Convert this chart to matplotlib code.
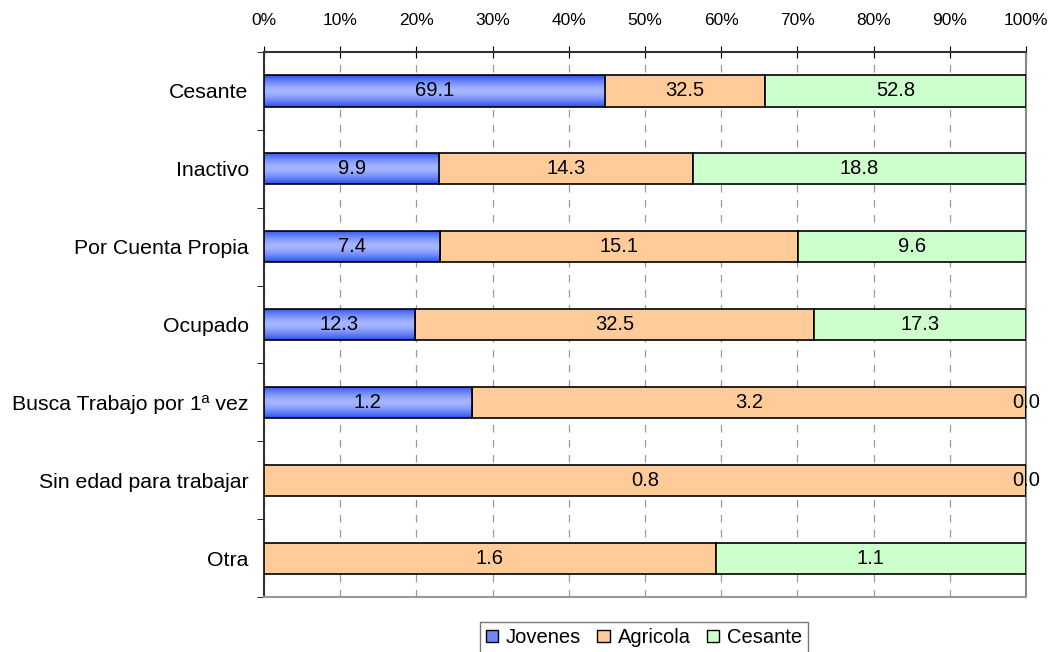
import matplotlib.pyplot as plt
import numpy as np
from matplotlib.patches import Patch
from matplotlib.ticker import FixedLocator, PercentFormatter

plt.rcParams["font.family"] = ["Liberation Sans", "DejaVu Sans"]

categories = ["Cesante", "Inactivo", "Por Cuenta Propia", "Ocupado",
              "Busca Trabajo por 1ª vez", "Sin edad para trabajar", "Otra"]
jovenes = [69.1, 9.9, 7.4, 12.3, 1.2, None, None]
agricola = [32.5, 14.3, 15.1, 32.5, 3.2, 0.8, 1.6]
cesante = [52.8, 18.8, 9.6, 17.3, 0.0, 0.0, 1.1]

series = [("Jovenes", jovenes, "#8fa3fb"),
          ("Agricola", agricola, "#ffcc99"),
          ("Cesante", cesante, "#ccffcc")]

fig = plt.figure(figsize=(10.48, 6.52), dpi=100)
ax = fig.add_axes([264 / 1048, 1 - 597 / 652, 762 / 1048, 545 / 652])

y = np.arange(len(categories))
totals = np.array([sum(v for v in vals if v is not None)
                   for vals in zip(jovenes, agricola, cesante)])
left = np.zeros(len(categories))
bar_h = 0.4

# vertical gradient for the blue series: dark edges, light middle
grad = np.abs(np.linspace(-1, 1, 64)) ** 1.5
grad_img = np.zeros((64, 1, 3))
dark = np.array([0x2a, 0x4f, 0xf0]) / 255
light = np.array([0xa5, 0xb6, 0xff]) / 255
for i, g in enumerate(grad):
    grad_img[i, 0] = light * (1 - g) + dark * g

for name, vals, color in series:
    v = np.array([np.nan if x is None else x for x in vals], dtype=float)
    pct = np.nan_to_num(v) / totals * 100
    bars = ax.barh(y, pct, left=left, height=bar_h, color=color,
                   edgecolor="black", linewidth=1.2, zorder=3)
    for b, val, p, l in zip(bars, v, pct, left):
        if np.isnan(val):
            b.set_visible(False)
            continue
        if name == "Jovenes":
            x0, y0 = b.get_x(), b.get_y()
            im = ax.imshow(grad_img, extent=[x0, x0 + b.get_width(), y0, y0 + b.get_height()],
                           aspect="auto", zorder=3.5, interpolation="bilinear")
            im.set_clip_path(b)
            b.set_facecolor("none")
            b.set_zorder(4)
        ax.text(l + p / 2, b.get_y() + b.get_height() / 2, f"{val:.1f}",
                ha="center", va="center", fontsize=14.5, zorder=5)
    left = left + pct

ax.set_xlim(0, 100)
ax.set_ylim(len(categories) - 0.5, -0.5)
ax.set_aspect("auto")

ax.xaxis.tick_top()
ax.set_xticks(np.arange(0, 101, 10))
ax.xaxis.set_major_formatter(PercentFormatter(decimals=0))
ax.tick_params(axis="x", direction="inout", length=8, labelsize=12.5, pad=13)

ax.set_yticks(y)
ax.set_yticklabels(categories)
ax.yaxis.set_minor_locator(FixedLocator(np.arange(-0.5, len(categories), 1.0)))
ax.tick_params(axis="y", which="major", length=0, labelsize=15.3, pad=11)
ax.tick_params(axis="y", which="minor", length=5, direction="out")

ax.grid(axis="x", color="#999999", linestyle=(0, (6, 6)), linewidth=0.9, zorder=0)
ax.set_axisbelow(True)

ax.spines["top"].set_color("#333333")
ax.spines["top"].set_linewidth(1.5)
ax.spines["left"].set_color("#333333")
ax.spines["left"].set_linewidth(1.5)
ax.spines["right"].set_color("#888888")
ax.spines["right"].set_linewidth(1.5)
ax.spines["bottom"].set_color("#999999")
ax.spines["bottom"].set_linewidth(1.5)

handles = [Patch(facecolor=c if n != "Jovenes" else "#6f87f5", edgecolor="black", label=n)
           for n, _, c in series]
fig.legend(handles=handles, loc="lower center", bbox_to_anchor=(644 / 1048, -0.005),
           ncol=3, fontsize=14.5, frameon=True, fancybox=False, edgecolor="#555555",
           handlelength=0.6, handleheight=0.6, handletextpad=0.4, columnspacing=0.8,
           borderpad=0.3, borderaxespad=0.1)

fig.savefig("out.png", dpi=100)
